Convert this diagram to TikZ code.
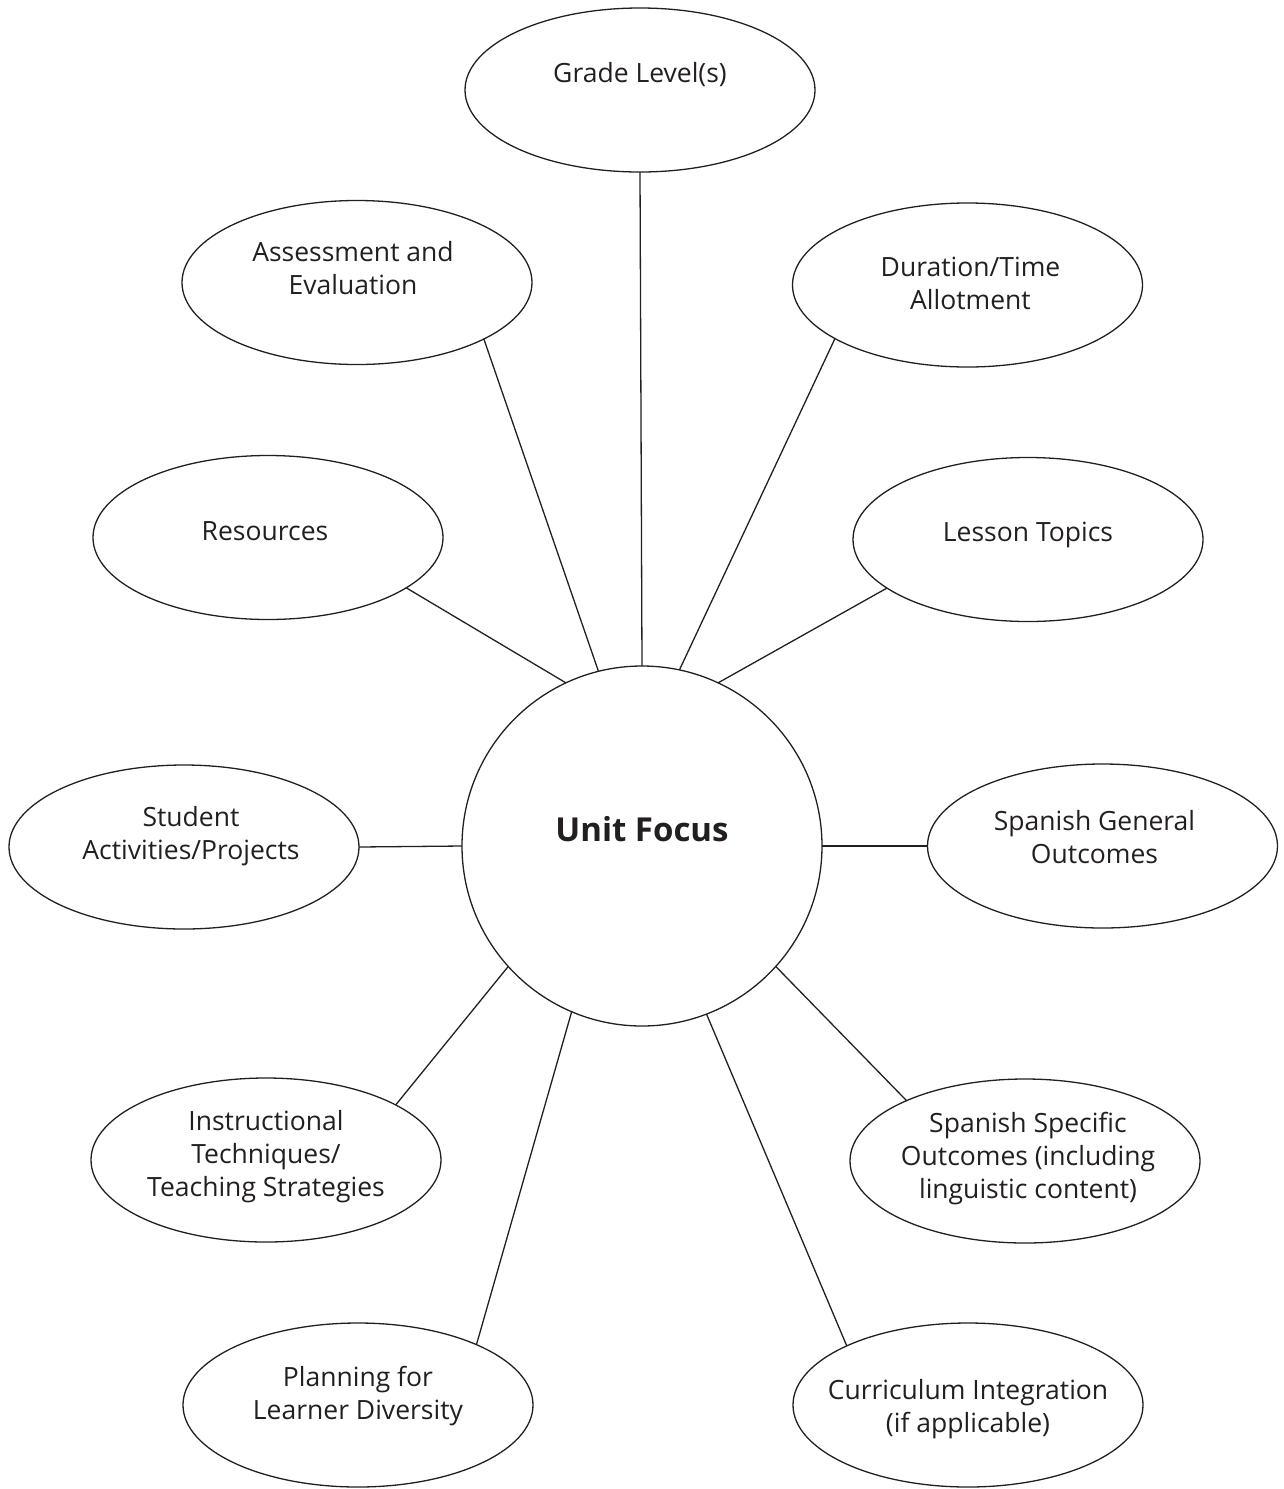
\documentclass[tikz,border=0pt]{standalone}
\usepackage{fontspec}
\setmainfont{Open Sans}
\usepackage{tikz}
\usetikzlibrary{shapes.geometric}

\definecolor{ink}{HTML}{231F20}

\begin{document}
\begin{tikzpicture}[x=1pt, y=-1pt,
        bubble/.style={draw=ink, ellipse, line width=1.3pt, minimum width=350pt, minimum height=164pt, inner sep=0pt, outer sep=0pt},
        tag/.style={align=center, text=ink, font=\fontsize{26.5}{33}\selectfont},
        hub/.style={draw=ink, circle, line width=1.3pt, minimum size=360pt, inner sep=0pt, outer sep=0pt},
        spoke/.style={draw=ink, line width=1.3pt}]
        \useasboundingbox (0,0) rectangle (1284,1489);

        \node[hub, label={[tag, yshift=17pt, font=\fontsize{33}{40}\selectfont\bfseries]center:Unit Focus}] (unit) at (642,846) {};

        \node[bubble, label={[tag, yshift=15pt]center:Grade Level(s)}] (grade) at (640,90) {};
        \node[bubble, label={[tag, yshift=14pt, xshift=-4pt]center:Assessment and\\Evaluation}] (assess) at (357,282.5) {};
        \node[bubble, label={[tag, yshift=2pt, xshift=3pt]center:Duration/Time\\Allotment}] (duration) at (967.5,285) {};
        \node[bubble, label={[tag, yshift=6pt, xshift=-3pt]center:Resources}] (resources) at (268,537.5) {};
        \node[bubble, label={[tag, yshift=5pt]center:Lesson Topics}] (topics) at (1028,539.5) {};
        \node[bubble, label={[tag, yshift=11pt, xshift=7pt]center:Student\\Activities/Projects}] (student) at (184,847) {};
        \node[bubble, label={[tag, yshift=9pt, xshift=-8pt]center:Spanish General\\Outcomes}] (general) at (1102.5,846) {};
        \node[bubble, label={[tag, yshift=3pt]center:Instructional\\Techniques/\\Teaching Strategies}] (instruct) at (266,1160) {};
        \node[bubble, label={[tag, yshift=2pt, xshift=3pt]center:Spanish Specific\\Outcomes (including\\linguistic content)}] (specific) at (1025,1161) {};
        \node[bubble, label={[tag, yshift=9pt]center:Planning for\\Learner Diversity}] (diversity) at (358,1405) {};
        \node[bubble, label={[tag, yshift=-4pt]center:Curriculum Integration\\(if applicable)}] (curric) at (968,1405) {};

        \draw[spoke]
            (unit.north) edge (grade.south)
            (unit.104) edge (assess.-24)
            (unit.78.7) edge (duration.-158)
            (unit.115) edge (resources.-20.6)
            (unit.65.7) edge (topics.199.5)
            (unit.west) edge (student.east)
            (unit.east) edge (general.west)
            (unit.222.5) edge (instruct.23.5)
            (unit.-42.8) edge (specific.153.6)
            (unit.247.6) edge (diversity.27.3)
            (unit.-69.8) edge (curric.154.6);
\end{tikzpicture}
\end{document}
